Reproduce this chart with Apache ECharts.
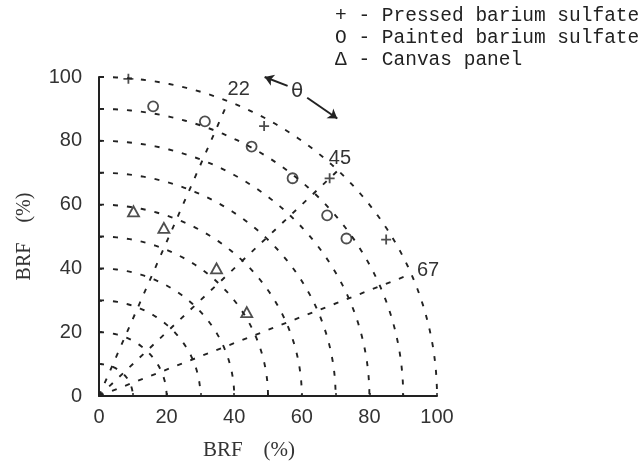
<!DOCTYPE html>
<html><head><meta charset="utf-8">
<script src="https://cdn.jsdelivr.net/npm/echarts@6/dist/echarts.min.js"></script>
<style>html,body{margin:0;padding:0;background:#fff}#c{width:644px;height:466px}</style>
</head><body><div id="c"></div>
<script>
// ---- data (theta = zenith angle in degrees, BRF in %) ----
const seriesNames = ['Pressed barium sulfate', 'Painted barium sulfate', 'Canvas panel'];
const legendMarks = ['+', 'O', 'Δ'];
const pressedTheta = [5, 30, 45, 60];
const pressedBRF = [99.8, 97.7, 96.5, 98.1];
const paintedTheta = [10, 20, 30, 40, 50, 56];
const paintedBRF = [92.2, 91.6, 90.3, 89.1, 88.1, 88.3];
const canvasTheta = [10, 20, 41, 59];
const canvasBRF = [58.8, 56.1, 53.0, 51.0];
const ringRadii = [10, 20, 30, 40, 50, 60, 70, 80, 90, 100];
const spokeAngles = [22.5, 45, 67.5];
const spokeLabels = ['22', '45', '67'];
const axisTitle = 'BRF    (%)';

// label placement (styling, not data)
const spokeLabelRadius = [104.5, 103, 105];
const spokeLabelShift = [0.8, -1.2, 0.5];

function toXY(r, deg) { const a = deg * Math.PI / 180; return [r * Math.sin(a), r * Math.cos(a)]; }
function polarData(th, r) { return th.map((t, i) => toXY(r[i], t)); }

const ink = '#222';
const dash = [5, 9];
const chart = echarts.init(document.getElementById('c'));

const scatterBase = {
  type: 'scatter', z: 5, clip: false,
  itemStyle: { color: 'transparent', borderColor: ink, borderWidth: 1.8 }
};

chart.setOption({
  backgroundColor: '#ffffff',
  animation: false,
  grid: { left: 99, right: 207, top: 77, bottom: 66 },
  legend: {
    orient: 'vertical', left: 325, top: 0, icon: 'none', itemWidth: 0, itemHeight: 14, itemGap: 0,
    data: seriesNames,
    formatter: n => legendMarks[seriesNames.indexOf(n)] + ' - ' + n,
    textStyle: { fontFamily: 'Liberation Mono', fontSize: 19.5, color: ink, lineHeight: 22 },
    selectedMode: false
  },
  xAxis: {
    type: 'value', min: 0, max: 100, interval: 10,
    axisLine: { lineStyle: { color: ink, width: 2 } },
    axisTick: { show: true, inside: true, length: 3, lineStyle: { color: ink, width: 1.5 } },
    axisLabel: { formatter: v => (v % 20 === 0 ? v : ''), fontFamily: 'Liberation Sans', fontSize: 20, color: '#333', margin: 11 },
    splitLine: { show: false },
    name: axisTitle, nameLocation: 'middle', nameGap: 44,
    nameTextStyle: { fontFamily: 'Liberation Serif', fontSize: 21, color: '#333', padding: [0, 38, 0, 0] }
  },
  yAxis: {
    type: 'value', min: 0, max: 100, interval: 10,
    axisLine: { show: true, lineStyle: { color: ink, width: 2 } },
    axisTick: { show: true, inside: true, length: 3, lineStyle: { color: ink, width: 1.5 } },
    axisLabel: { formatter: v => (v % 20 === 0 ? v : ''), fontFamily: 'Liberation Sans', fontSize: 20, color: '#333', margin: 17 },
    splitLine: { show: false },
    name: axisTitle, nameLocation: 'middle', nameGap: 64,
    nameTextStyle: { fontFamily: 'Liberation Serif', fontSize: 20, color: '#333' }
  },
  series: [
    {
      type: 'custom', silent: true, z: 1, clip: false,
      data: ringRadii.map(r => [r]),
      renderItem(params, api) {
        const r = api.value(0); const pts = [];
        for (let d = 0; d <= 90.01; d += 1.5) pts.push(api.coord(toXY(r, d)));
        return { type: 'polyline', shape: { points: pts },
          style: { stroke: ink, lineWidth: 1.9, lineDash: dash, fill: null } };
      }
    },
    {
      type: 'custom', silent: true, z: 1, clip: false,
      data: spokeAngles.map((a, i) => [a, i]),
      renderItem(params, api) {
        const a = api.value(0); const i = api.value(1);
        const p0 = api.coord([0, 0]); const p1 = api.coord(toXY(100, a));
        const pl = api.coord(toXY(spokeLabelRadius[i], a + spokeLabelShift[i]));
        return { type: 'group', children: [
          { type: 'line', shape: { x1: p0[0], y1: p0[1], x2: p1[0], y2: p1[1] },
            style: { stroke: ink, lineWidth: 1.9, lineDash: dash } },
          { type: 'text', x: pl[0], y: pl[1],
            style: { text: spokeLabels[i], fontFamily: 'Liberation Sans', fontSize: 20, fill: '#333',
                     align: 'center', verticalAlign: 'middle' } }
        ] };
      }
    },
    Object.assign({}, scatterBase, {
      name: seriesNames[0], symbol: 'path://M5,0 L5,10 M0,5 L10,5', symbolSize: 10,
      data: polarData(pressedTheta, pressedBRF)
    }),
    Object.assign({}, scatterBase, {
      name: seriesNames[1], symbol: 'circle', symbolSize: 10,
      data: polarData(paintedTheta, paintedBRF)
    }),
    Object.assign({}, scatterBase, {
      name: seriesNames[2], symbol: 'triangle', symbolSize: [11, 10],
      data: polarData(canvasTheta, canvasBRF)
    }),
    {
      type: 'scatter', data: [], silent: true,
      markPoint: {
        symbol: 'circle', symbolSize: 0,
        label: { show: true, formatter: 'θ', fontFamily: 'DejaVu Sans', fontSize: 20, color: '#333' },
        data: [{ coord: [58.6, 95.4] }]
      },
      markLine: {
        silent: true, symbol: ['none', 'arrow'], symbolSize: 9, animation: false,
        label: { show: false },
        lineStyle: { type: 'solid', color: ink, width: 2 },
        data: [
          [{ coord: [55.8, 97.2] }, { coord: [49.0, 100] }],
          [{ coord: [61.6, 93.5], lineStyle: { curveness: -0.25 } }, { coord: [70.5, 87.0] }]
        ]
      }
    }
  ]
});
</script>
</body></html>
